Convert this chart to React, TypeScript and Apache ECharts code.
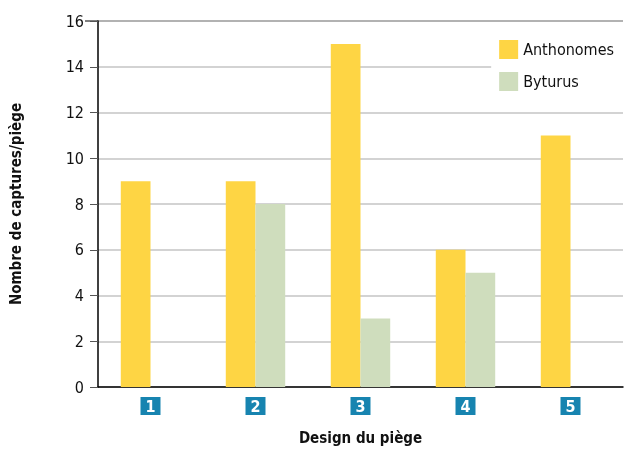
import React, { useEffect, useRef } from "react";
import * as echarts from "echarts";

const categories = ["1", "2", "3", "4", "5"];
const anthonomes = [9, 9, 15, 6, 11];
const byturus = [0, 8, 3, 5, 0];
const yTicks = [0, 2, 4, 6, 8, 10, 12, 14, 16];

const FONT = "'DejaVu Sans Condensed', 'Liberation Sans Narrow', 'Noto Sans', sans-serif";

export default function App() {
  const ref = useRef<HTMLDivElement>(null);
  useEffect(() => {
    if (!ref.current) return;
    const chart = echarts.init(ref.current, null, { renderer: "svg" });
    chart.setOption({
      animation: false,
      textStyle: { fontFamily: FONT },
      grid: { left: 93, right: 2, top: 21, bottom: 62, containLabel: false },
      legend: {
        orient: "vertical",
        right: 0,
        top: 32,
        itemWidth: 19,
        itemHeight: 19,
        itemGap: 13,
        backgroundColor: "#ffffff",
        padding: [8, 11, 8, 8],
        textStyle: { fontFamily: FONT, fontSize: 16, color: "#111" },
        icon: "rect",
        data: ["Anthonomes", "Byturus"],
      },
      xAxis: {
        type: "category",
        data: categories,
        name: "Design du piège",
        nameLocation: "middle",
        nameGap: 43,
        nameTextStyle: { fontFamily: FONT, fontSize: 15, fontWeight: "bold", color: "#111" },
        axisLine: { lineStyle: { color: "#000", width: 1.5 } },
        axisTick: { show: false },
        axisLabel: {
          margin: 10,
          formatter: (v: string) => `{b|${v}}`,
          rich: {
            b: {
              backgroundColor: "#1784B0",
              color: "#fff",
              fontFamily: FONT,
              fontWeight: "bold",
              fontSize: 16,
              width: 20,
              height: 18,
              lineHeight: 18,
              align: "center",
            },
          },
        },
      },
      yAxis: {
        type: "value",
        min: 0,
        max: 16,
        interval: 2,
        name: "Nombre de captures/piège",
        nameLocation: "middle",
        nameGap: 75,
        nameTextStyle: { fontFamily: FONT, fontSize: 15, fontWeight: "bold", color: "#111" },
        axisLine: { show: true, lineStyle: { color: "#000", width: 1.5 } },
        axisTick: { show: true, length: 8, lineStyle: { color: "#555" } },
        axisLabel: {
          margin: 14,
          fontSize: 16,
          color: "#111",
          fontFamily: FONT,
          formatter: (v: number) => (yTicks.includes(v) ? String(v) : ""),
        },
        splitLine: { lineStyle: { color: "#c4c4c4", width: 1.5 } },
      },
      series: [
        {
          name: "Anthonomes",
          type: "bar",
          data: anthonomes,
          barWidth: "28.3%",
          barGap: "0%",
          itemStyle: { color: "#FED544" },
        },
        {
          name: "Byturus",
          type: "bar",
          data: byturus,
          barWidth: "28.3%",
          barGap: "0%",
          itemStyle: { color: "#CFDDBD" },
        },
      ],
      graphic: [
        {
          type: "line",
          shape: { x1: 85, y1: 21, x2: 623, y2: 21 },
          style: { stroke: "#555", lineWidth: 1.5 },
          z: 0,
        },
      ],
    });
    return () => chart.dispose();
  }, []);
  return (
    <div
      ref={ref}
      style={{ width: 625, height: 450, position: "fixed", left: 0, top: 0 }}
    />
  );
}
